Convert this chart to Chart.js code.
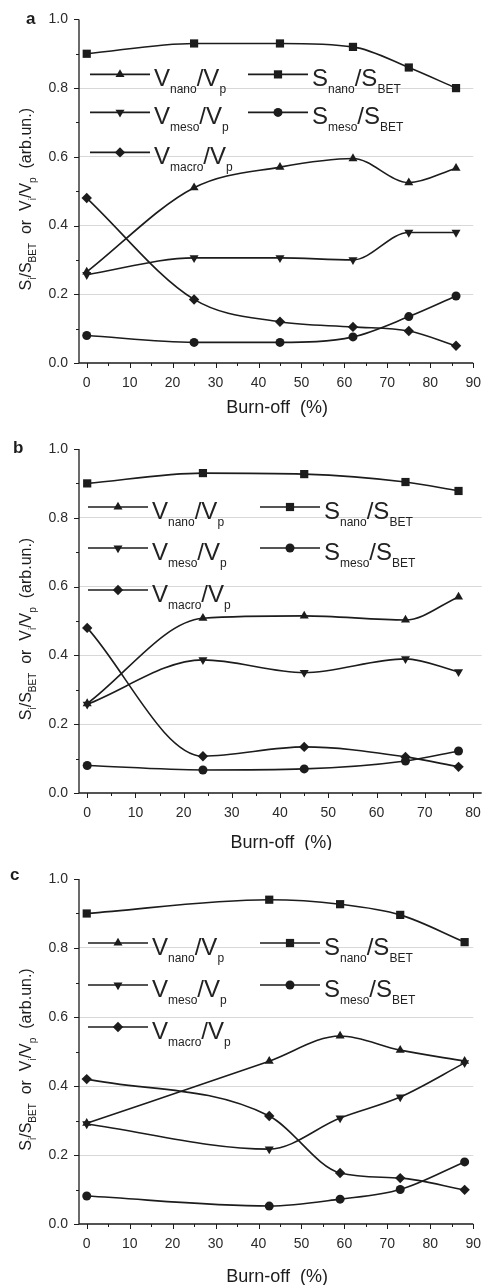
<!DOCTYPE html>
<html>
<head>
<meta charset="utf-8">
<script src="https://cdn.jsdelivr.net/npm/chart.js@4.4.1/dist/chart.umd.min.js"></script>
<style>
  html, body { margin: 0; padding: 0; background: #ffffff; }
  canvas { position: absolute; left: 0; display: block; }
</style>
</head>
<body>
<canvas id="panelA" width="493" height="420" style="top:0px"></canvas>
<canvas id="panelB" width="493" height="430" style="top:420px"></canvas>
<canvas id="panelC" width="493" height="435" style="top:850px"></canvas>
<script>
// ---- data: fractions of pore volume / surface area versus burn-off ----
// sample series a
const burnA   = [0, 25, 45, 62, 75, 86];
const vNanoA  = [0.265, 0.51, 0.57, 0.595, 0.525, 0.567];
const sNanoA  = [0.90, 0.93, 0.93, 0.92, 0.86, 0.80];
const vMesoA  = [0.257, 0.306, 0.306, 0.30, 0.38, 0.38];
const sMesoA  = [0.08, 0.06, 0.06, 0.076, 0.135, 0.195];
const vMacroA = [0.48, 0.185, 0.12, 0.105, 0.093, 0.05];

// sample series b
const burnB   = [0, 24, 45, 66, 77];
const vNanoB  = [0.26, 0.508, 0.515, 0.503, 0.57];
const sNanoB  = [0.90, 0.93, 0.927, 0.904, 0.878];
const vMesoB  = [0.258, 0.387, 0.35, 0.39, 0.352];
const sMesoB  = [0.08, 0.067, 0.07, 0.093, 0.122];
const vMacroB = [0.48, 0.107, 0.134, 0.105, 0.076];

// sample series c
const burnC   = [0, 42.5, 59, 73, 88];
const vNanoC  = [0.292, 0.472, 0.545, 0.504, 0.472];
const sNanoC  = [0.90, 0.94, 0.927, 0.896, 0.817];
const vMesoC  = [0.29, 0.217, 0.307, 0.368, 0.467];
const sMesoC  = [0.081, 0.052, 0.072, 0.10, 0.18];
const vMacroC = [0.42, 0.313, 0.148, 0.133, 0.099];

// ---- tick labels and texts ----
const yTicks   = [0, 0.2, 0.4, 0.6, 0.8, 1.0];
const xTicks90 = [0, 10, 20, 30, 40, 50, 60, 70, 80, 90];
const xTicks80 = [0, 10, 20, 30, 40, 50, 60, 70, 80];
const seriesNames = ['V_{nano}/V_{p}', 'S_{nano}/S_{BET}', 'V_{meso}/V_{p}', 'S_{meso}/S_{BET}', 'V_{macro}/V_{p}'];
const yTitle = 'S_{i}/S_{BET}  or  V_{i}/V_{p}  (arb.un.)';
const xTitle = 'Burn-off  (%)';
const panelLetters = ['a', 'b', 'c'];

// ---- styling ----
const FONT = 'Arial, "Liberation Sans", Helvetica, sans-serif';
const INK = '#1c1c1c';
const GRID = '#d8d8d8';

// marker per series, in the order of seriesNames
const markers = [
  { pointStyle: 'triangle', rotation: 0,   radius: 5.2 },
  { pointStyle: 'rect',     rotation: 0,   radius: 5.8 },
  { pointStyle: 'triangle', rotation: 180, radius: 5.2 },
  { pointStyle: 'circle',   rotation: 0,   radius: 4.5 },
  { pointStyle: 'rectRot',  rotation: 0,   radius: 5.2 }
];

// split "A_{b}/C_{d}" into normal and subscript runs
function parseRich(s) {
  const parts = [];
  const re = /_\{([^}]*)\}|([^_]+)/g;
  let m;
  while ((m = re.exec(s))) {
    if (m[1] !== undefined) parts.push({ t: m[1], sub: true });
    else parts.push({ t: m[2], sub: false });
  }
  return parts;
}
function richWidth(ctx, parts, big, small) {
  let w = 0;
  for (const p of parts) {
    ctx.font = (p.sub ? small : big) + 'px ' + FONT;
    w += ctx.measureText(p.t).width;
  }
  return w;
}
function drawRich(ctx, parts, x, y, big, small, subDy) {
  let cx = x;
  for (const p of parts) {
    ctx.font = (p.sub ? small : big) + 'px ' + FONT;
    ctx.fillText(p.t, cx, p.sub ? y + subDy : y);
    cx += ctx.measureText(p.t).width;
  }
}

// axes spines, ticks, titles, legend and panel letter
const panelDecor = {
  id: 'panelDecor',
  afterDraw(chart, args, o) {
    const { ctx, chartArea: a, scales: { x, y } } = chart;
    ctx.save();
    ctx.strokeStyle = INK;
    ctx.fillStyle = INK;
    ctx.lineWidth = 1.3;
    ctx.beginPath();
    ctx.moveTo(a.left, a.top);
    ctx.lineTo(a.left, a.bottom);
    ctx.lineTo(a.right, a.bottom);
    ctx.stroke();

    // y ticks (major every 0.2, minor every 0.1)
    ctx.lineWidth = 1;
    ctx.beginPath();
    for (let i = 0; i <= 10; i++) {
      const py = Math.round(y.getPixelForValue(i / 10)) + 0.5;
      const len = i % 2 === 0 ? 5 : 3;
      ctx.moveTo(a.left - len, py);
      ctx.lineTo(a.left, py);
    }
    // x ticks (major every 10, minor every 5)
    const xmax = o.ticks[o.ticks.length - 1];
    for (let v = 0; v <= xmax; v += 5) {
      const px = Math.round(x.getPixelForValue(v)) + 0.5;
      const len = v % 10 === 0 ? 5 : 3;
      ctx.moveTo(px, a.bottom);
      ctx.lineTo(px, a.bottom + len);
    }
    ctx.stroke();

    // x title
    ctx.font = '18px ' + FONT;
    ctx.textAlign = 'center';
    ctx.textBaseline = 'middle';
    ctx.fillText(xTitle, (a.left + a.right) / 2 + 1, a.bottom + o.xTitleOffset);

    // rotated y title with subscripts
    ctx.textAlign = 'left';
    ctx.textBaseline = 'alphabetic';
    const yt = parseRich(yTitle);
    const tw = richWidth(ctx, yt, 16, 10);
    ctx.save();
    ctx.translate(31, (a.top + a.bottom) / 2 + 8);
    ctx.rotate(-Math.PI / 2);
    drawRich(ctx, yt, -tw / 2, 0, 16, 10, 5);
    ctx.restore();

    // legend: two columns, three rows
    const cells = [[0, 0], [1, 0], [0, 1], [1, 1], [0, 2]];
    cells.forEach(([col, row], i) => {
      const x0 = o.legendCols[col];
      const ly = a.top + o.legendRows[row];
      ctx.strokeStyle = INK;
      ctx.lineWidth = 1.6;
      ctx.beginPath();
      ctx.moveTo(x0, ly);
      ctx.lineTo(x0 + 60, ly);
      ctx.stroke();
      ctx.fillStyle = INK;
      Chart.helpers.drawPoint(ctx, Object.assign({ borderWidth: 0 }, markers[i]), x0 + 30, ly);
      ctx.fillStyle = '#222';
      drawRich(ctx, parseRich(seriesNames[i]), x0 + 64, ly + 12, 24, 12, 7);
    });

    // panel letter
    ctx.font = 'bold 17px ' + FONT;
    ctx.textAlign = 'left';
    ctx.textBaseline = 'alphabetic';
    ctx.fillStyle = INK;
    ctx.fillText(o.letter, o.letterPos[0], o.letterPos[1]);
    ctx.restore();
  }
};

function makePanel(id, burn, series, cfg) {
  const datasets = series.map((vals, i) => ({
    label: seriesNames[i],
    data: burn.map((b, j) => ({ x: b, y: vals[j] })),
    borderColor: INK,
    backgroundColor: INK,
    borderWidth: 1.6,
    cubicInterpolationMode: 'monotone',
    pointStyle: markers[i].pointStyle,
    pointRotation: markers[i].rotation,
    pointRadius: markers[i].radius,
    pointBorderWidth: 0,
    pointBackgroundColor: INK,
    clip: false
  }));
  return new Chart(document.getElementById(id), {
    type: 'line',
    data: { datasets },
    plugins: [panelDecor],
    options: {
      responsive: false,
      animation: false,
      devicePixelRatio: 1,
      layout: { padding: { left: 0, right: 10, top: cfg.top, bottom: 0 } },
      plugins: {
        legend: { display: false },
        tooltip: { enabled: false },
        panelDecor: cfg.decor
      },
      scales: {
        x: {
          type: 'linear',
          min: cfg.xmin,
          max: cfg.xmax,
          afterBuildTicks: (s) => { s.ticks = cfg.decor.ticks.map(v => ({ value: v })); },
          afterFit: (s) => { s.height = cfg.xAxisHeight; },
          grid: { display: false, drawTicks: false },
          border: { display: false },
          ticks: { color: '#2a2a2a', font: { size: 14, family: FONT }, padding: 12, maxRotation: 0, autoSkip: false,
                   callback: (v) => String(v) }
        },
        y: {
          min: 0,
          max: 1.0,
          afterBuildTicks: (s) => { s.ticks = yTicks.map(v => ({ value: v })); },
          afterFit: (s) => { s.width = 79; },
          grid: { drawTicks: false, color: (c) => (c.tick && (c.tick.value === 0 || c.tick.value === 1)) ? 'rgba(0,0,0,0)' : GRID, lineWidth: 1 },
          border: { display: false },
          ticks: { color: '#2a2a2a', font: { size: 14, family: FONT }, padding: 11,
                   callback: (v) => Number(v).toFixed(1) }
        }
      }
    }
  });
}

makePanel('panelA', burnA, [vNanoA, sNanoA, vMesoA, sMesoA, vMacroA], {
  top: 17, xmin: -1.8, xmax: 90, xAxisHeight: 57,
  decor: { ticks: xTicks90, xTitleOffset: 45, legendCols: [90, 248], legendRows: [55, 93, 133], letter: 'a', letterPos: [26, 24] }
});
makePanel('panelB', burnB, [vNanoB, sNanoB, vMesoB, sMesoB, vMacroB], {
  top: 29, xmin: -1.7, xmax: 81.8, xAxisHeight: 57,
  decor: { ticks: xTicks80, xTitleOffset: 50, legendCols: [88, 260], legendRows: [58, 99, 141], letter: 'b', letterPos: [13, 33] }
});
makePanel('panelC', burnC, [vNanoC, sNanoC, vMesoC, sMesoC, vMacroC], {
  top: 29, xmin: -1.8, xmax: 90, xAxisHeight: 61,
  decor: { ticks: xTicks90, xTitleOffset: 53, legendCols: [88, 260], legendRows: [64, 106, 148], letter: 'c', letterPos: [10, 30] }
});
</script>
</body>
</html>
